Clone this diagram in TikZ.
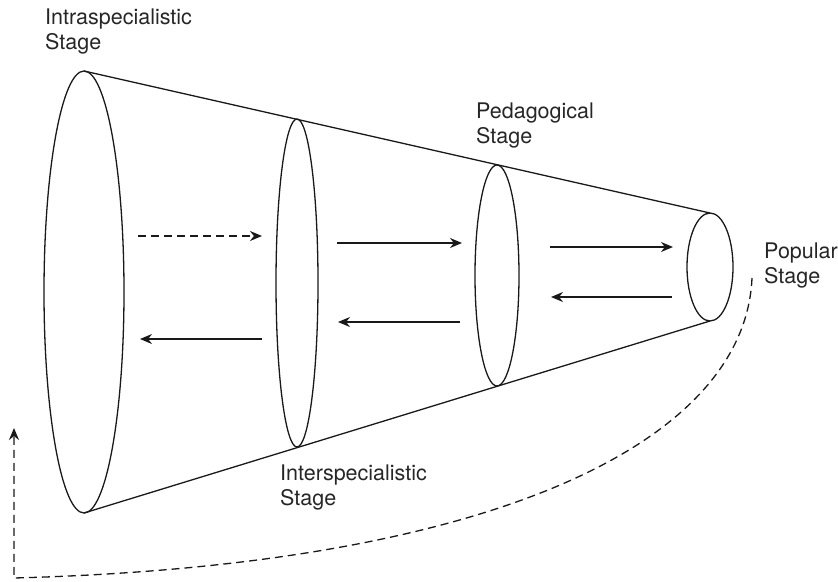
\documentclass[tikz,border=0pt]{standalone}
\usepackage{fontspec}
\setmainfont{TeX Gyre Heros}
\usetikzlibrary{arrows.meta}
\begin{document}
\begin{tikzpicture}[x=1pt,y=-1pt,
  line/.style={line width=1.3pt, black!90},
  arr/.style={line width=1.3pt, black!90, -{Stealth[length=12pt,width=10pt]}},
  dsh/.style={dash pattern=on 8pt off 5pt},
  lbl/.style={anchor=base west, inner sep=0pt, align=left, font=\fontsize{21.5}{24.5}\selectfont, text=black!85}]
\useasboundingbox (0,0) rectangle (838,581);
% ellipses
\coordinate (e1) at (84,292);
\coordinate (e2) at (297,283);
\coordinate (e3) at (497,275.5);
\coordinate (e4) at (710,267);
\draw[line] (e1) ellipse [x radius=40pt, y radius=221pt];
\draw[line] (e2) ellipse [x radius=21pt, y radius=164pt];
\draw[line] (e3) ellipse [x radius=22pt, y radius=110.5pt];
\draw[line] (e4) ellipse [x radius=23pt, y radius=54pt];
% cone lines
\coordinate (t1) at (84,71);
\coordinate (b1) at (84,513);
\coordinate (t4) at (710,213);
\coordinate (b4) at (710,321);
\draw[line] (t1) -- (t4);
\draw[line] (b1) -- (b4);
% arrows
\coordinate (a1s) at (138,236); \coordinate (a1e) at (262,236);
\coordinate (a2s) at (337,243); \coordinate (a2e) at (462,243);
\coordinate (a3s) at (550,247); \coordinate (a3e) at (673,247);
\coordinate (a4s) at (672,297); \coordinate (a4e) at (551,297);
\coordinate (a5s) at (460,322); \coordinate (a5e) at (338,322);
\coordinate (a6s) at (262,339); \coordinate (a6e) at (140,339);
\draw[arr, dsh] (a1s) -- (a1e);
\draw[arr] (a2s) -- (a2e);
\draw[arr] (a3s) -- (a3e);
\draw[arr] (a4s) -- (a4e);
\draw[arr] (a5s) -- (a5e);
\draw[arr] (a6s) -- (a6e);
% return curve
\coordinate (cs) at (752,278);
\coordinate (cc) at (14,578);
\coordinate (ce) at (14,428);
\draw[arr, dsh] (cs) .. controls (745,440) and (500,565) .. (cc) -- (ce);
% labels (anchored at the baseline of the second line)
\node[lbl] (l1) at (45,49) {Intraspecialistic\\Stage};
\node[lbl] (l2) at (476,143) {Pedagogical\\Stage};
\node[lbl] (l3) at (764,283) {Popular\\Stage};
\node[lbl] (l4) at (280,505) {Interspecialistic\\Stage};
\end{tikzpicture}
\end{document}
